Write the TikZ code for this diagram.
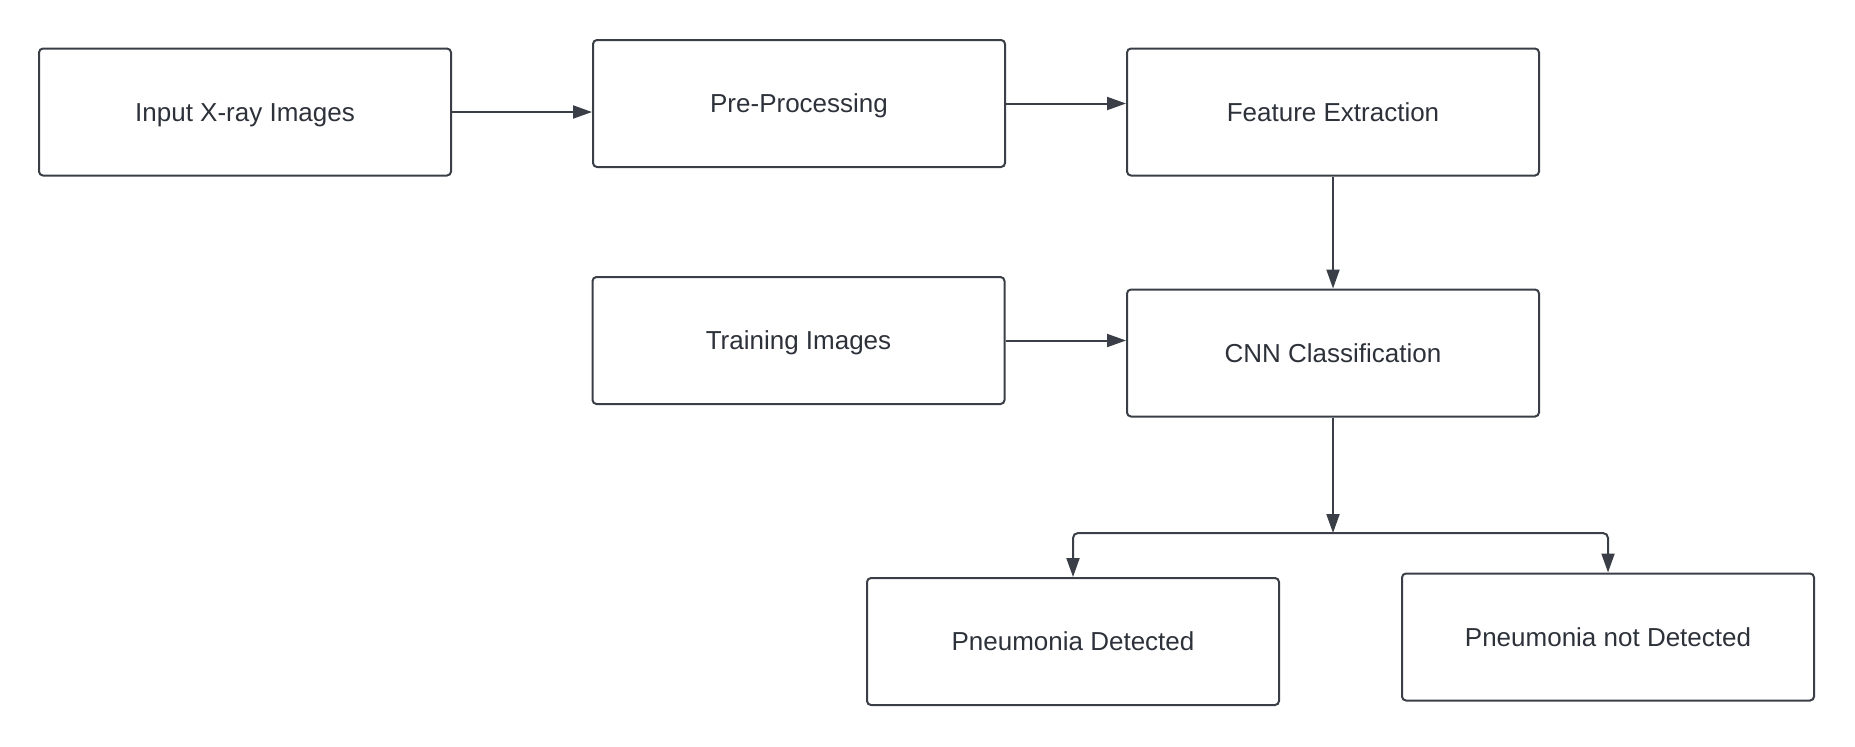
\documentclass[tikz,border=0pt]{standalone}
\usepackage{fontspec}
\setmainfont{Liberation Sans}
\usetikzlibrary{arrows.meta}
\definecolor{edgegray}{RGB}{58,63,71}
\definecolor{textgray}{RGB}{45,50,58}

\begin{document}
\begin{tikzpicture}[x=0.5pt,y=-0.5pt,>={Triangle[length=9.5pt,width=6.5pt]},
  box/.style={draw=edgegray,line width=1pt,rounded corners=2pt,minimum width=206pt,minimum height=63.5pt,text height=9.3pt,text depth=0pt,text=textgray,font=\fontsize{13}{15}\selectfont},
  link/.style={->,draw=edgegray,line width=1pt}]

\useasboundingbox (0,0) rectangle (1855,746);

\node[box]   (input)   at (245,112)      {Input X-ray Images};
 \node[box]  (pre)     at (799,103.5)    {Pre-Processing};
	\node[box] (feat)    at (1333,112)     {Feature Extraction};
	\node[box] (train)   at (798.5,340.5)  {Training Images};
	\node[box] (cnn)     at (1333,353)     {CNN Classification};
		\node[box] (yes)   at (1073,641.5)   {Pneumonia Detected};
		\node[box] (no)    at (1608,637)     {Pneumonia not Detected};

\coordinate (split) at (1333,533);

	\draw[link] (input.east) -- (input.east -| pre.west);
	\draw[link] (pre.east)   -- (pre.east -| feat.west);
	\draw[link] (feat)       -- (cnn);
	\draw[link] (train.east) -- (train.east -| cnn.west);
	\draw[link] (cnn)        -- (split);
	\draw[link,rounded corners=2.5pt] (split) -| (yes);
	\draw[link,rounded corners=2.5pt] (split) -| (no);

\end{tikzpicture}
\end{document}
